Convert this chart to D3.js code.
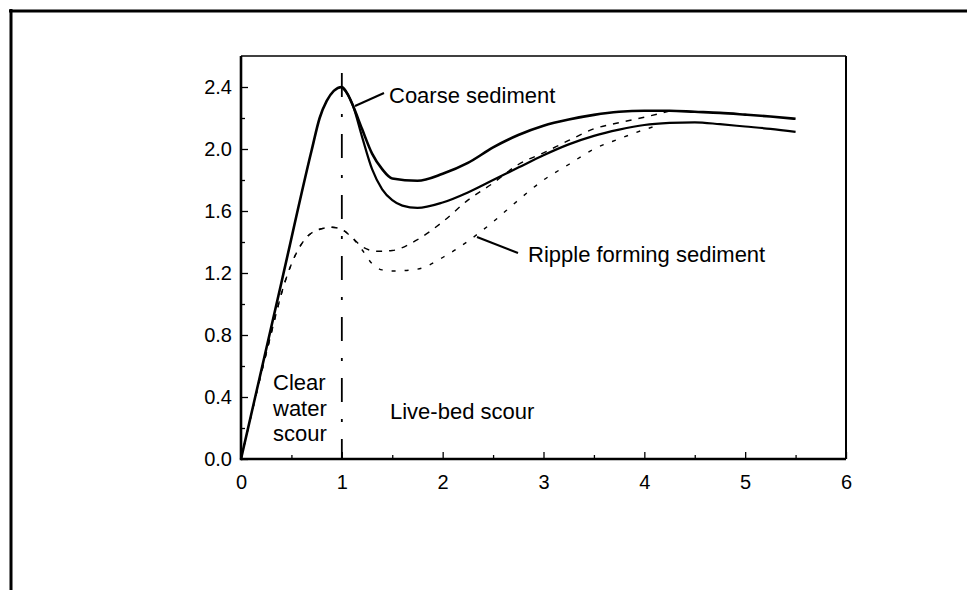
<!DOCTYPE html>
<html>
<head>
<meta charset="utf-8">
<script src="https://cdn.jsdelivr.net/npm/d3@7"></script>
<style>
  html, body { margin: 0; padding: 0; background: #fff; }
  svg { display: block; }
  text { font-family: "Liberation Sans", Arial, Helvetica, sans-serif; fill: #000; }
</style>
</head>
<body>
<svg id="chart" width="967" height="590"></svg>
<script>
// ---- data ----
const xTicks = [0, 1, 2, 3, 4, 5, 6];
const xMinorTicks = [0.5, 1.5, 2.5, 3.5, 4.5, 5.5];
const yTicks = [0.0, 0.4, 0.8, 1.2, 1.6, 2.0, 2.4];
const yMinorTicks = [0.2, 0.6, 1.0, 1.4, 1.8, 2.2];

// Coarse sediment, upper solid curve
const coarseUpperX = [0, 0.4, 0.7, 0.78, 0.85, 0.92, 1.0, 1.065, 1.11, 1.2, 1.3, 1.4, 1.5, 1.75, 2.0, 2.25, 2.5, 2.75, 3.0, 3.25, 3.5, 3.75, 4.0, 4.25, 4.5, 4.75, 5.0, 5.25, 5.5];
const coarseUpperY = [0, 1.136, 1.99, 2.2, 2.31, 2.375, 2.4, 2.345, 2.28, 2.13, 1.97, 1.87, 1.81, 1.795, 1.84, 1.91, 2.01, 2.09, 2.15, 2.19, 2.22, 2.24, 2.247, 2.247, 2.24, 2.233, 2.222, 2.21, 2.195];

// Coarse sediment, lower solid curve
const coarseLowerX = [1.0, 1.065, 1.11, 1.2, 1.3, 1.4, 1.5, 1.6, 1.75, 2.0, 2.25, 2.5, 2.75, 3.0, 3.25, 3.5, 3.75, 4.0, 4.25, 4.5, 4.75, 5.0, 5.25, 5.5];
const coarseLowerY = [2.4, 2.345, 2.28, 2.08, 1.87, 1.74, 1.67, 1.635, 1.62, 1.655, 1.72, 1.8, 1.88, 1.96, 2.03, 2.085, 2.125, 2.155, 2.168, 2.172, 2.16, 2.145, 2.13, 2.11];

// Ripple forming sediment, upper dashed curve
const rippleUpperX = [0, 0.25, 0.45, 0.55, 0.65, 0.75, 0.9, 1.0, 1.1, 1.2, 1.35, 1.5, 1.75, 2.0, 2.25, 2.5, 2.75, 3.0, 3.25, 3.5, 3.75, 4.0, 4.25];
const rippleUpperY = [0, 0.68, 1.17, 1.33, 1.43, 1.475, 1.495, 1.48, 1.43, 1.37, 1.34, 1.345, 1.415, 1.53, 1.67, 1.78, 1.9, 1.975, 2.055, 2.13, 2.17, 2.205, 2.245];

// Ripple forming sediment, lower dotted curve
const rippleLowerX = [0, 0.25, 0.45, 0.55, 0.65, 0.75, 0.9, 1.0, 1.1, 1.2, 1.3, 1.4, 1.5, 1.75, 2.0, 2.25, 2.5, 2.75, 3.0, 3.25, 3.5, 3.75, 4.0, 4.15];
const rippleLowerY = [0, 0.68, 1.17, 1.33, 1.43, 1.475, 1.495, 1.48, 1.43, 1.35, 1.26, 1.22, 1.213, 1.225, 1.3, 1.405, 1.53, 1.67, 1.8, 1.9, 2.0, 2.065, 2.125, 2.155];

const dividerX = 1;
const dividerY = [0, 2.49];

// ---- layout ----
const svg = d3.select("#chart");
const pL = 241, pR = 846, pT = 56, pB = 459;
const x = d3.scaleLinear().domain([0, 6]).range([pL, pR]);
const y = d3.scaleLinear().domain([0, 2.6]).range([pB, pT]);

// outer page border (top and left)
svg.append("line").attr("x1", 9).attr("x2", 967).attr("y1", 11).attr("y2", 11)
  .attr("stroke", "#000").attr("stroke-width", 3);
svg.append("line").attr("x1", 11).attr("x2", 11).attr("y1", 9).attr("y2", 590)
  .attr("stroke", "#000").attr("stroke-width", 3);

// frame: top & right thin
svg.append("line").attr("x1", pL).attr("x2", pR).attr("y1", pT).attr("y2", pT)
  .attr("stroke", "#000").attr("stroke-width", 1.5);
svg.append("line").attr("x1", pR).attr("x2", pR).attr("y1", pT).attr("y2", pB)
  .attr("stroke", "#000").attr("stroke-width", 2);

// axes
const xAxis = d3.axisBottom(x).tickValues(xTicks).tickSize(-7).tickPadding(16).tickFormat(d3.format("d"));
const gx = svg.append("g").attr("transform", `translate(0,${pB})`).call(xAxis);
const yAxis = d3.axisLeft(y).tickValues(yTicks).tickSize(-7).tickPadding(9).tickFormat(d3.format(".1f"));
const gy = svg.append("g").attr("transform", `translate(${pL},0)`).call(yAxis);
[gx, gy].forEach(g => {
  g.select(".domain").remove();
  g.selectAll(".tick line").attr("stroke", "#000").attr("stroke-width", 1.3);
  g.selectAll(".tick text").attr("font-size", 20).attr("fill", "#000")
    .style("font-family", '"Liberation Sans", Arial, Helvetica, sans-serif');
});
// minor ticks
const gxm = svg.append("g").attr("transform", `translate(0,${pB})`)
  .call(d3.axisBottom(x).tickValues(xMinorTicks).tickSize(-4).tickFormat(""));
const gym = svg.append("g").attr("transform", `translate(${pL},0)`)
  .call(d3.axisLeft(y).tickValues(yMinorTicks).tickSize(-4).tickFormat(""));
[gxm, gym].forEach(g => {
  g.select(".domain").remove();
  g.selectAll(".tick line").attr("stroke", "#000").attr("stroke-width", 1.3);
});

// thick left & bottom axis lines
svg.append("line").attr("x1", pL).attr("x2", pR).attr("y1", pB).attr("y2", pB)
  .attr("stroke", "#000").attr("stroke-width", 2.6);
svg.append("line").attr("x1", pL).attr("x2", pL).attr("y1", pT).attr("y2", pB + 1.3)
  .attr("stroke", "#000").attr("stroke-width", 2.6);

// divider dash-dot line
svg.append("line")
  .attr("x1", x(dividerX)).attr("x2", x(dividerX))
  .attr("y1", y(dividerY[1])).attr("y2", y(dividerY[0]))
  .attr("stroke", "#000").attr("stroke-width", 1.8)
  .attr("stroke-dasharray", "24,17,3,17");

// curves
const line = d3.line().x(d => x(d[0])).y(d => y(d[1])).curve(d3.curveMonotoneX);
const zip = (a, b) => a.map((v, i) => [v, b[i]]);

svg.append("path").datum(zip(rippleUpperX, rippleUpperY)).attr("d", line)
  .attr("fill", "none").attr("stroke", "#000").attr("stroke-width", 1.4)
  .attr("stroke-dasharray", "6,7");
svg.append("path").datum(zip(rippleLowerX, rippleLowerY)).attr("d", line)
  .attr("fill", "none").attr("stroke", "#000").attr("stroke-width", 1.4)
  .attr("stroke-dasharray", "4,9");
svg.append("path").datum(zip(coarseUpperX, coarseUpperY)).attr("d", line)
  .attr("fill", "none").attr("stroke", "#000").attr("stroke-width", 2.6);
svg.append("path").datum(zip(coarseLowerX, coarseLowerY)).attr("d", line)
  .attr("fill", "none").attr("stroke", "#000").attr("stroke-width", 2.2);

// annotations
const fs = 22;
svg.append("line").attr("x1", 355).attr("y1", 106).attr("x2", 384).attr("y2", 93)
  .attr("stroke", "#000").attr("stroke-width", 2);
svg.append("text").attr("x", 389).attr("y", 103).attr("font-size", fs).text("Coarse sediment");

svg.append("line").attr("x1", 477).attr("y1", 237).attr("x2", 518).attr("y2", 253)
  .attr("stroke", "#000").attr("stroke-width", 2);
svg.append("text").attr("x", 528).attr("y", 262).attr("font-size", fs).text("Ripple forming sediment");

svg.append("text").attr("x", 390).attr("y", 419).attr("font-size", fs).text("Live-bed scour");

const clear = ["Clear", "water", "scour"];
svg.append("g").selectAll("text").data(clear).join("text")
  .attr("x", 273).attr("y", (d, i) => 390 + i * 25.5).attr("font-size", fs).text(d => d);
</script>
</body>
</html>
